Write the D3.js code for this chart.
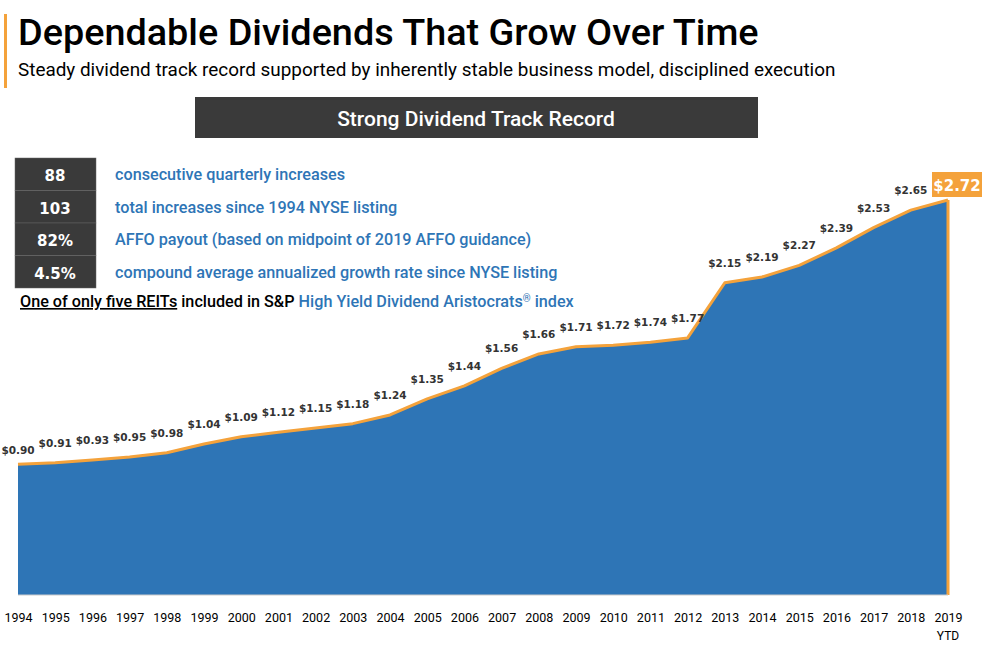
<!DOCTYPE html>
<html><head><meta charset="utf-8">
<script src="https://cdn.jsdelivr.net/npm/d3@7"></script>
<style>body{margin:0;background:#fff;font-family:"Open Sans",sans-serif}</style>
</head><body><svg id="c" width="985" height="649"></svg>
<script>
const years=["1994","1995","1996","1997","1998","1999","2000","2001","2002","2003","2004","2005","2006","2007","2008","2009","2010","2011","2012","2013","2014","2015","2016","2017","2018","2019"];
const dividends=[0.90,0.91,0.93,0.95,0.98,1.04,1.09,1.12,1.15,1.18,1.24,1.35,1.44,1.56,1.66,1.71,1.72,1.74,1.77,2.15,2.19,2.27,2.39,2.53,2.65,2.72];
const statNums=["88","103","82%","4.5%"];
const statTexts=["consecutive quarterly increases","total increases since 1994 NYSE listing","AFFO payout (based on midpoint of 2019 AFFO guidance)","compound average annualized growth rate since NYSE listing"];
const svg=d3.select("#c");
const x=d3.scalePoint().domain(years).range([18,948]);
const y=d3.scaleLinear().domain([0,2.72]).range([595,200]);
const blue="#2e75b6",orange="#f4a23b";
svg.append("rect").attr("x",4).attr("y",14).attr("width",3).attr("height",74).attr("fill",orange);
svg.append("text").attr("x",18).attr("y",45).attr("font-family","Roboto").attr("font-weight",500).attr("font-size",37.8).attr("fill","#000").text("Dependable Dividends That Grow Over Time");
svg.append("text").attr("x",18).attr("y",76).attr("font-family","Roboto").attr("font-size",18.9).attr("fill","#000").text("Steady dividend track record supported by inherently stable business model, disciplined execution");
svg.append("rect").attr("x",195).attr("y",97).attr("width",563).attr("height",41).attr("fill","#3a3a3a");
svg.append("text").attr("x",476).attr("y",126).attr("text-anchor","middle").attr("font-family","Roboto").attr("font-weight",500).attr("font-size",21).attr("fill","#fff").text("Strong Dividend Track Record");
statNums.forEach((n,i)=>{
  const yy=158+i*32.5;
  svg.append("rect").attr("x",15).attr("y",yy).attr("width",81).attr("height",32.5).attr("fill","#3a3a3a").attr("stroke","#666").attr("stroke-width",0.5);
  svg.append("text").attr("x",55).attr("y",yy+23).attr("text-anchor","middle").attr("font-family","Verdana, DejaVu Sans").attr("font-weight","bold").attr("font-size",15).attr("fill","#fff").text(n);
  svg.append("text").attr("x",115).attr("y",yy+22).attr("font-family","Roboto").attr("font-weight",500).attr("font-size",16.2).attr("fill",blue).text(statTexts[i]);
});
const ft=svg.append("text").attr("x",20).attr("y",307).attr("font-family","Roboto").attr("font-weight",500).attr("font-size",16.2);
ft.append("tspan").attr("fill","#000").attr("text-decoration","underline").text("One of only five REITs");
ft.append("tspan").attr("fill","#000").text(" included in S&P ");
ft.append("tspan").attr("fill",blue).text("High Yield Dividend Aristocrats");
ft.append("tspan").attr("fill",blue).attr("font-size",10).attr("dy",-5).text("®");
ft.append("tspan").attr("fill",blue).attr("dy",5).text(" index");
const data=years.map((yr,i)=>({yr,v:dividends[i]}));
const area=d3.area().x(d=>x(d.yr)).y0(y(0)).y1(d=>y(d.v));
svg.append("path").datum(data).attr("d",area).attr("fill",blue);
const line=d3.line().x(d=>x(d.yr)).y(d=>y(d.v));
svg.append("path").datum(data).attr("d",line).attr("fill","none").attr("stroke",orange).attr("stroke-width",3).attr("stroke-linejoin","round");
svg.append("line").attr("x1",x("2019")).attr("x2",x("2019")).attr("y1",y(2.72)).attr("y2",y(0)).attr("stroke",orange).attr("stroke-width",3);
svg.append("line").attr("x1",x("1994")).attr("x2",x("2019")).attr("y1",y(0)).attr("y2",y(0)).attr("stroke","#ccc").attr("stroke-width",1);
data.slice(0,-1).forEach(d=>{
  svg.append("text").attr("x",x(d.yr)).attr("y",y(d.v)-(d.yr==="1994"?10:16)).attr("text-anchor","middle").attr("font-family","DejaVu Sans").attr("font-weight","bold").attr("font-size",10.5).attr("fill","#333").text("$"+d.v.toFixed(2));
});
svg.append("rect").attr("x",932).attr("y",172).attr("width",50).attr("height",25).attr("fill",orange);
svg.append("text").attr("x",957).attr("y",191).attr("text-anchor","middle").attr("font-family","DejaVu Sans").attr("font-weight","bold").attr("font-size",15).attr("fill","#fff").text("$2.72");
const ax=svg.append("g").attr("transform","translate(0,603)").call(d3.axisBottom(x).tickSize(0).tickPadding(10));
ax.select(".domain").remove();
ax.selectAll("text").attr("font-family","Roboto").attr("font-size",12.5).attr("fill","#000");
svg.append("text").attr("x",x("2019")).attr("y",640).attr("text-anchor","middle").attr("font-family","Roboto").attr("font-size",12).text("YTD");
</script></body></html>
